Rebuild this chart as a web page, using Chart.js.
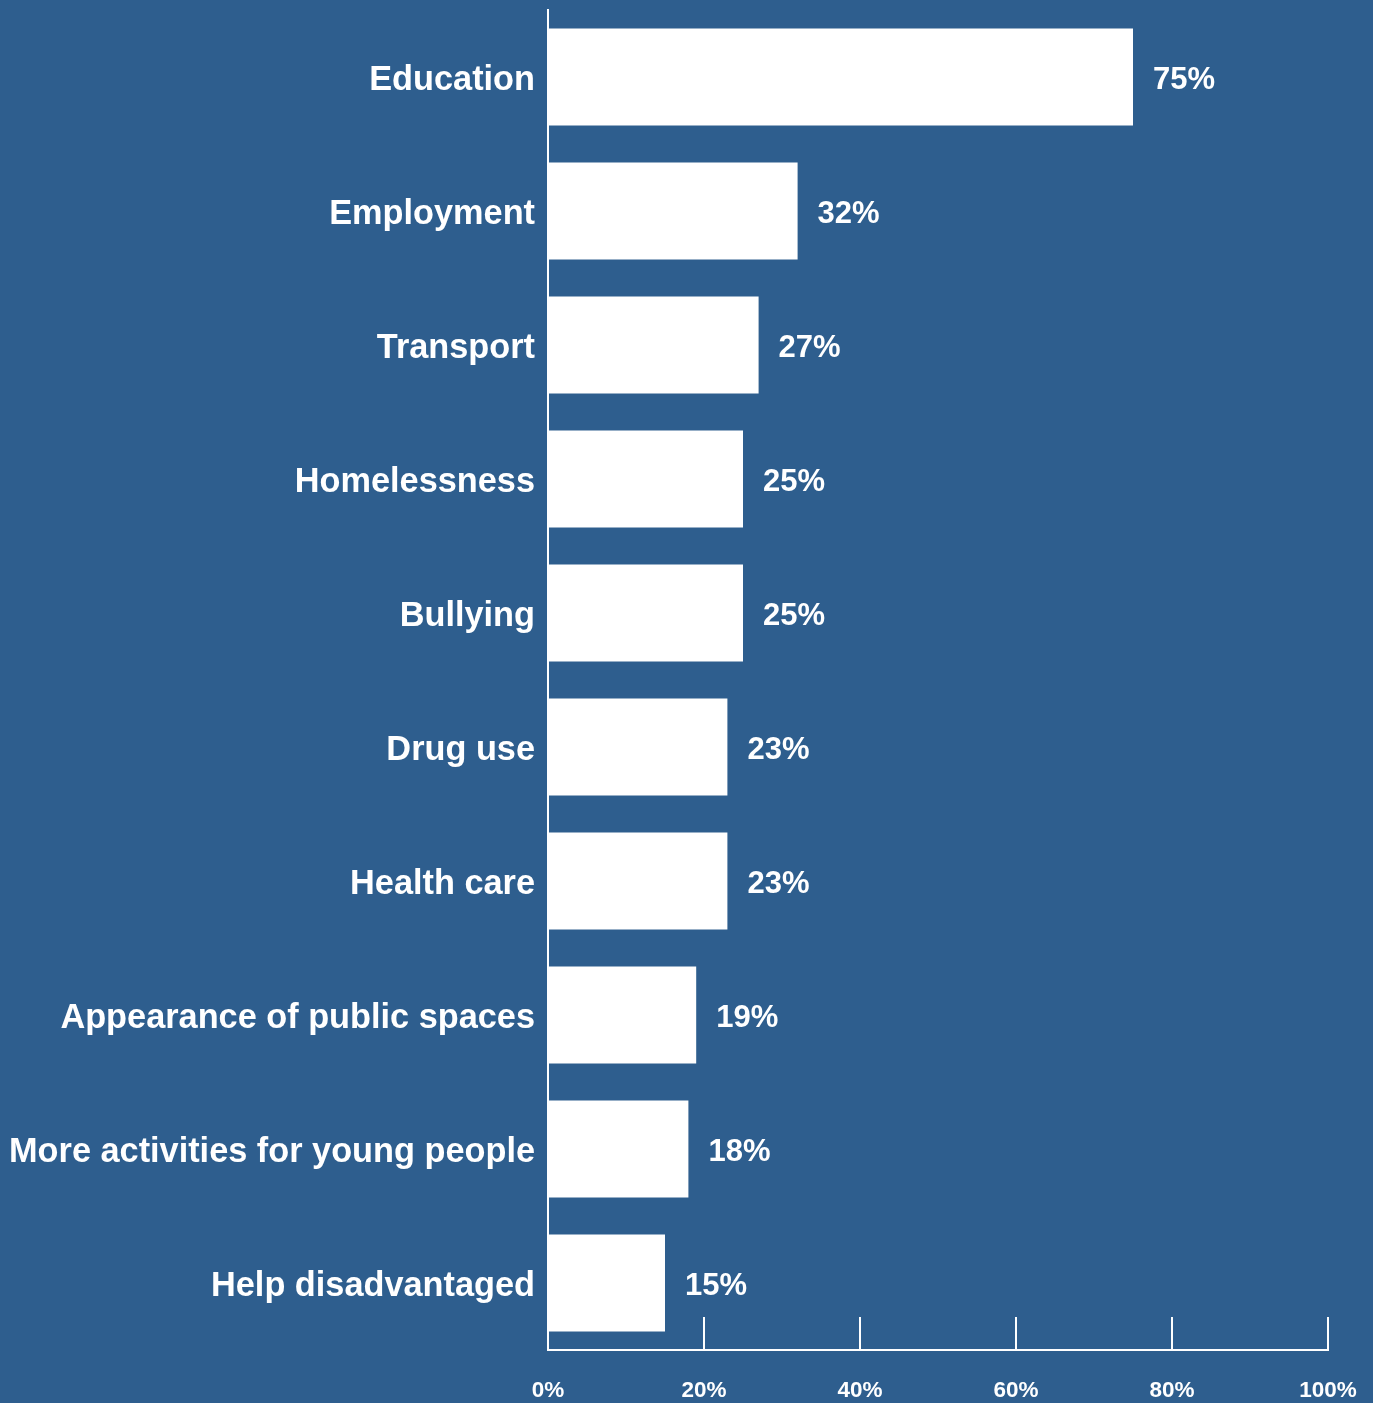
<!DOCTYPE html>
<html>
<head>
<meta charset="utf-8">
<script src="https://cdn.jsdelivr.net/npm/chart.js@4/dist/chart.umd.min.js"></script>
<style>
html,body{margin:0;padding:0;background:#2E5E8E;}
#wrap{width:1373px;height:1403px;position:relative;}
</style>
</head>
<body>
<div id="wrap"><canvas id="c" width="1373" height="1403"></canvas></div>
<script>
const categories = ["Education","Employment","Transport","Homelessness","Bullying","Drug use","Health care","Appearance of public spaces","More activities for young people","Help disadvantaged"];
const values = [75,32,27,25,25,23,23,19,18,15];
const xTicks = [0,20,40,60,80,100];

const FONT = "'Liberation Sans', Arial, Helvetica, sans-serif";

const valueLabels = {
  id: 'valueLabels',
  afterDatasetsDraw(chart) {
    const ctx = chart.ctx;
    const meta = chart.getDatasetMeta(0);
    ctx.save();
    ctx.fillStyle = '#ffffff';
    ctx.font = 'bold 31px ' + FONT;
    ctx.textAlign = 'left';
    ctx.textBaseline = 'middle';
    meta.data.forEach((bar, i) => {
      ctx.fillText(values[i] + '%', bar.x + 20, bar.y + 3);
    });
    ctx.restore();
  }
};

const innerTicks = {
  id: 'innerTicks',
  afterDraw(chart) {
    const ctx = chart.ctx;
    const xs = chart.scales.x;
    const bottom = chart.chartArea.bottom;
    ctx.save();
    ctx.strokeStyle = '#ffffff';
    ctx.lineWidth = 2;
    xs.ticks.forEach((t) => {
      if (t.value === 0) return;
      const px = Math.round(xs.getPixelForValue(t.value));
      ctx.beginPath();
      ctx.moveTo(px, bottom - 33);
      ctx.lineTo(px, bottom);
      ctx.stroke();
    });
    ctx.restore();
  }
};

function zeroPad(s) {
  s.paddingTop = 0; s.paddingBottom = 0; s.paddingLeft = 0; s.paddingRight = 0;
}

new Chart(document.getElementById('c'), {
  type: 'bar',
  data: {
    labels: categories,
    datasets: [{
      data: values,
      backgroundColor: '#ffffff',
      borderWidth: 0,
      barPercentage: 0.724,
      categoryPercentage: 1.0
    }]
  },
  options: {
    indexAxis: 'y',
    responsive: false,
    animation: false,
    devicePixelRatio: 1,
    layout: { padding: { top: 10, right: 45, bottom: 0, left: 0 } },
    plugins: { legend: { display: false }, tooltip: { enabled: false } },
    scales: {
      x: {
        min: 0, max: 100,
        afterBuildTicks: (s) => { s.ticks = xTicks.map(v => ({ value: v })); },
        afterFit: (s) => { s.height = 53; zeroPad(s); },
        grid: { display: false, drawTicks: false },
        border: { display: true, color: '#ffffff', width: 2 },
        ticks: {
          color: '#ffffff',
          padding: 27,
          maxRotation: 0,
          font: { family: FONT, size: 22.5, weight: 'bold' },
          callback: (v) => v + '%'
        }
      },
      y: {
        afterFit: (s) => { s.width = 548; zeroPad(s); },
        grid: { display: false, drawTicks: false },
        border: { display: true, color: '#ffffff', width: 2 },
        ticks: {
          color: '#ffffff',
          padding: 13,
          labelOffset: 4,
          font: { family: FONT, size: 34.3, weight: 'bold' }
        }
      }
    }
  },
  plugins: [valueLabels, innerTicks]
});
</script>
</body>
</html>
